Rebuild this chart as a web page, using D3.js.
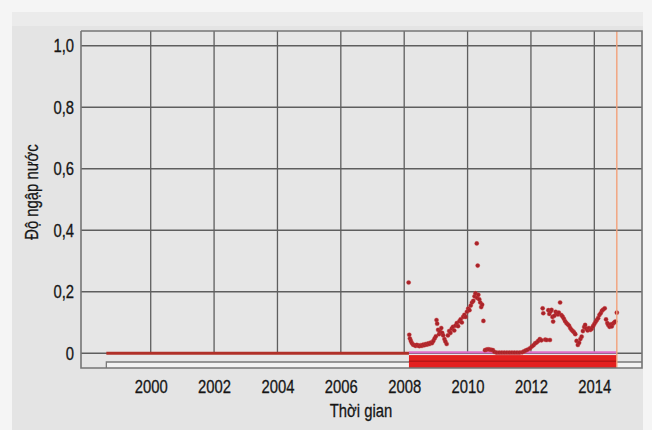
<!DOCTYPE html>
<html>
<head>
<meta charset="utf-8">
<script src="https://cdn.jsdelivr.net/npm/d3@7"></script>
<style>
  body { margin: 0; background: #f5f5f5; }
  text { font-family: "Liberation Sans", Arial, sans-serif; fill: #151515; stroke: #151515; stroke-width: 0.3px; }
</style>
</head>
<body>
<svg id="chart" width="652" height="430"></svg>
<script>
// Tick values
const yTicks = [0, 0.2, 0.4, 0.6, 0.8, 1.0];
const xTicks = [2000, 2002, 2004, 2006, 2008, 2010, 2012, 2014];

// Record span and flagged period (decimal years)
const recordStart = 1998.6;
const flaggedStart = 2008.15;
const recordEnd = 2014.71;

// Early period: no water detected
const baselineYears = [1998.6, 2008.15];
const baselineValues = [0, 0];

// Water fraction observations (decimal year, fraction)
const obsYears = [
  2008.14, 2008.16, 2008.18, 2008.21, 2008.24, 2008.28, 2008.32, 2008.36, 2008.40, 2008.44,
  2008.48, 2008.52, 2008.56, 2008.60, 2008.64, 2008.68, 2008.72, 2008.76, 2008.80, 2008.84,
  2008.88, 2008.92, 2008.96, 2009.00, 2009.02, 2009.04, 2009.07, 2009.10, 2009.13, 2009.17,
  2009.20, 2009.23, 2009.27, 2009.30, 2009.34, 2009.38, 2009.42, 2009.46, 2009.50, 2009.54,
  2009.58, 2009.62, 2009.66, 2009.70, 2009.74, 2009.78, 2009.82, 2009.86, 2009.90, 2009.94,
  2009.98, 2010.02, 2010.06, 2010.10, 2010.14, 2010.18, 2010.22, 2010.25, 2010.29, 2010.32,
  2010.30, 2010.34, 2010.37, 2010.40, 2010.43, 2010.46, 2010.50, 2010.55, 2010.60, 2010.65,
  2010.70, 2010.75, 2010.80, 2010.85, 2010.92, 2011.00, 2011.08, 2011.16, 2011.24, 2011.32,
  2011.40, 2011.48, 2011.56, 2011.64, 2011.72, 2011.78, 2011.84, 2011.90, 2011.97, 2012.03,
  2012.08, 2012.13, 2012.18, 2012.23, 2012.28, 2012.33, 2012.37, 2012.39, 2012.45, 2012.50,
  2012.55, 2012.58, 2012.60, 2012.62, 2012.65, 2012.68, 2012.70, 2012.74, 2012.78, 2012.81,
  2012.85, 2012.88, 2012.92, 2012.96, 2013.00, 2013.04, 2013.08, 2013.12, 2013.16, 2013.20,
  2013.24, 2013.28, 2013.32, 2013.36, 2013.40, 2013.44, 2013.48, 2013.52, 2013.56, 2013.60,
  2013.64, 2013.68, 2013.71, 2013.75, 2013.79, 2013.83, 2013.88, 2013.92, 2013.96, 2014.00,
  2014.04, 2014.08, 2014.12, 2014.16, 2014.20, 2014.24, 2014.28, 2014.33, 2014.37, 2014.41,
  2014.44, 2014.48, 2014.52, 2014.55, 2014.59, 2014.63, 2014.66, 2014.71
];
const obsValues = [
  0.230, 0.060, 0.048, 0.040, 0.033, 0.028, 0.026, 0.024, 0.027, 0.025,
  0.023, 0.026, 0.024, 0.028, 0.026, 0.030, 0.028, 0.032, 0.030, 0.035,
  0.033, 0.040, 0.048, 0.055, 0.108, 0.096, 0.076, 0.062, 0.070, 0.082,
  0.066, 0.058, 0.046, 0.038, 0.030, 0.058, 0.072, 0.066, 0.080, 0.086,
  0.074, 0.090, 0.098, 0.088, 0.104, 0.110, 0.100, 0.118, 0.125, 0.118,
  0.135, 0.145, 0.140, 0.155, 0.165, 0.170, 0.185, 0.195, 0.357, 0.285,
  0.180, 0.190, 0.175, 0.165, 0.150, 0.158, 0.105, 0.010, 0.012, 0.013,
  0.012, 0.011, 0.010, 0.004, 0.002, 0.002, 0.002, 0.002, 0.002, 0.002,
  0.002, 0.002, 0.002, 0.002, 0.003, 0.006, 0.009, 0.012, 0.016, 0.022,
  0.026, 0.032, 0.035, 0.040, 0.046, 0.042, 0.146, 0.130, 0.044, 0.043,
  0.140, 0.128, 0.043, 0.136, 0.141, 0.118, 0.103, 0.122, 0.135, 0.130,
  0.126, 0.132, 0.165, 0.124, 0.119, 0.112, 0.104, 0.098, 0.094, 0.090,
  0.082, 0.076, 0.072, 0.068, 0.062, 0.040, 0.027, 0.034, 0.046, 0.054,
  0.072, 0.085, 0.092, 0.080, 0.074, 0.082, 0.076, 0.080, 0.088, 0.095,
  0.102, 0.108, 0.114, 0.124, 0.130, 0.138, 0.142, 0.146, 0.110, 0.098,
  0.092, 0.086, 0.094, 0.087, 0.096, 0.100, 0.103, 0.132
];

const svg = d3.select("#chart");
const W = 652, H = 430;
const plotL = 81, plotR = 642, plotT = 31, plotB = 368;
const narrow = 0.78;   // horizontal squeeze for the condensed lettering
const fontSize = 19;

const x = d3.scaleLinear().domain([1997.80, 2015.505]).range([plotL, plotR]);
const y = d3.scaleLinear().domain([-0.048, 1.048]).range([plotB, plotT]);

// Panel background
svg.append("rect").attr("x", 12).attr("y", 12).attr("width", 631).attr("height", H - 12)
  .attr("fill", "#e4e4e4");
svg.append("rect").attr("x", 12).attr("y", 12).attr("width", 631).attr("height", 14)
  .attr("fill", "#ebebeb");

// Plot area
svg.append("rect").attr("x", plotL).attr("y", plotT)
  .attr("width", plotR - plotL).attr("height", plotB - plotT)
  .attr("fill", "#e6e6e6");

// Timeline track under the zero line
const trackTop = 362;
svg.append("rect").attr("x", x(recordStart)).attr("y", trackTop)
  .attr("width", plotR - x(recordStart)).attr("height", plotB - trackTop)
  .attr("fill", "#f2f2f2");
svg.append("path")
  .attr("d", `M${x(recordStart)},${plotB}V${trackTop}H${plotR}`)
  .attr("fill", "none").attr("stroke", "#7a7a7a").attr("stroke-width", 1.3);

// Horizontal gridlines
svg.append("g").selectAll("line").data(yTicks).join("line")
  .attr("x1", plotL).attr("x2", plotR)
  .attr("y1", d => y(d)).attr("y2", d => y(d))
  .attr("stroke", "#5e5e5e").attr("stroke-width", 1.3);

// Vertical gridlines
svg.append("g").selectAll("line").data(xTicks).join("line")
  .attr("x1", d => x(d)).attr("x2", d => x(d))
  .attr("y1", plotT).attr("y2", y(0))
  .attr("stroke", "#5e5e5e").attr("stroke-width", 1.3);

// Flagged period band below zero
svg.append("rect").attr("x", x(flaggedStart)).attr("y", y(-0.006))
  .attr("width", x(recordEnd) - x(flaggedStart)).attr("height", plotB - y(-0.006))
  .attr("fill", "#e3201f");
svg.append("line")
  .attr("x1", x(flaggedStart)).attr("x2", x(recordEnd))
  .attr("y1", y(-0.026)).attr("y2", y(-0.026))
  .attr("stroke", "#b81616").attr("stroke-width", 1.5);

// Baseline for the early period
const line = d3.line().x(d => x(d[0])).y(d => y(d[1]));
svg.append("path")
  .datum(baselineYears.map((d, i) => [d, baselineValues[i]]))
  .attr("d", line)
  .attr("fill", "none").attr("stroke", "#b03028").attr("stroke-width", 3);

// Zero reference in the flagged period
svg.append("path")
  .datum([[flaggedStart, 0.003], [recordEnd, 0.003]])
  .attr("d", line)
  .attr("fill", "none").attr("stroke", "#e06cc8").attr("stroke-width", 2.2);

// Observations
svg.append("g").selectAll("circle")
  .data(obsYears.map((d, i) => [d, obsValues[i]]))
  .join("circle")
  .attr("cx", d => x(d[0])).attr("cy", d => y(d[1]))
  .attr("r", 2.1)
  .attr("fill", "#a8232a").attr("stroke", "#d03a3a").attr("stroke-width", 0.6).attr("stroke-opacity", 0.6);

// End-of-record marker
svg.append("line")
  .attr("x1", x(recordEnd)).attr("x2", x(recordEnd))
  .attr("y1", plotT).attr("y2", plotB)
  .attr("stroke", "#f2a07a").attr("stroke-width", 1.4);

// Plot border (with the step at the start of the record)
svg.append("path")
  .attr("d", `M${plotL},${plotT}H${plotR}V${plotB}H${x(recordStart)}M${plotL},${plotT}V${plotB}H${x(recordStart)}`)
  .attr("fill", "none").attr("stroke", "#767676").attr("stroke-width", 1.6);

// Y axis labels
const fmt = d => d === 0 ? "0" : d3.format(".1f")(d).replace(".", ",");
const yAxis = svg.append("g").attr("transform", `translate(${plotL - 7},0)`)
  .call(d3.axisLeft(y).tickValues(yTicks).tickFormat(fmt).tickSize(0).tickPadding(0));
yAxis.select(".domain").remove();
yAxis.attr("font-family", null).attr("font-size", null);
yAxis.selectAll("text").attr("font-size", fontSize).attr("x", 0)
  .attr("transform", `scale(${narrow},1)`);

// X axis labels
const xAxis = svg.append("g").attr("transform", `translate(0,${plotB})`)
  .call(d3.axisBottom(x).tickValues(xTicks).tickFormat(d3.format("d")).tickSize(0).tickPadding(12));
xAxis.select(".domain").remove();
xAxis.attr("font-family", null).attr("font-size", null);
xAxis.selectAll("text").attr("font-size", fontSize).attr("transform", `scale(${narrow},1)`);

// Axis titles
svg.append("text").attr("transform", `translate(361,417) scale(${narrow},1)`)
  .attr("text-anchor", "middle").attr("font-size", fontSize).text("Thời gian");
svg.append("text").attr("transform", `translate(38,192) rotate(-90) scale(${narrow},1)`)
  .attr("text-anchor", "middle").attr("font-size", fontSize).text("Độ ngập nước");
</script>
</body>
</html>
